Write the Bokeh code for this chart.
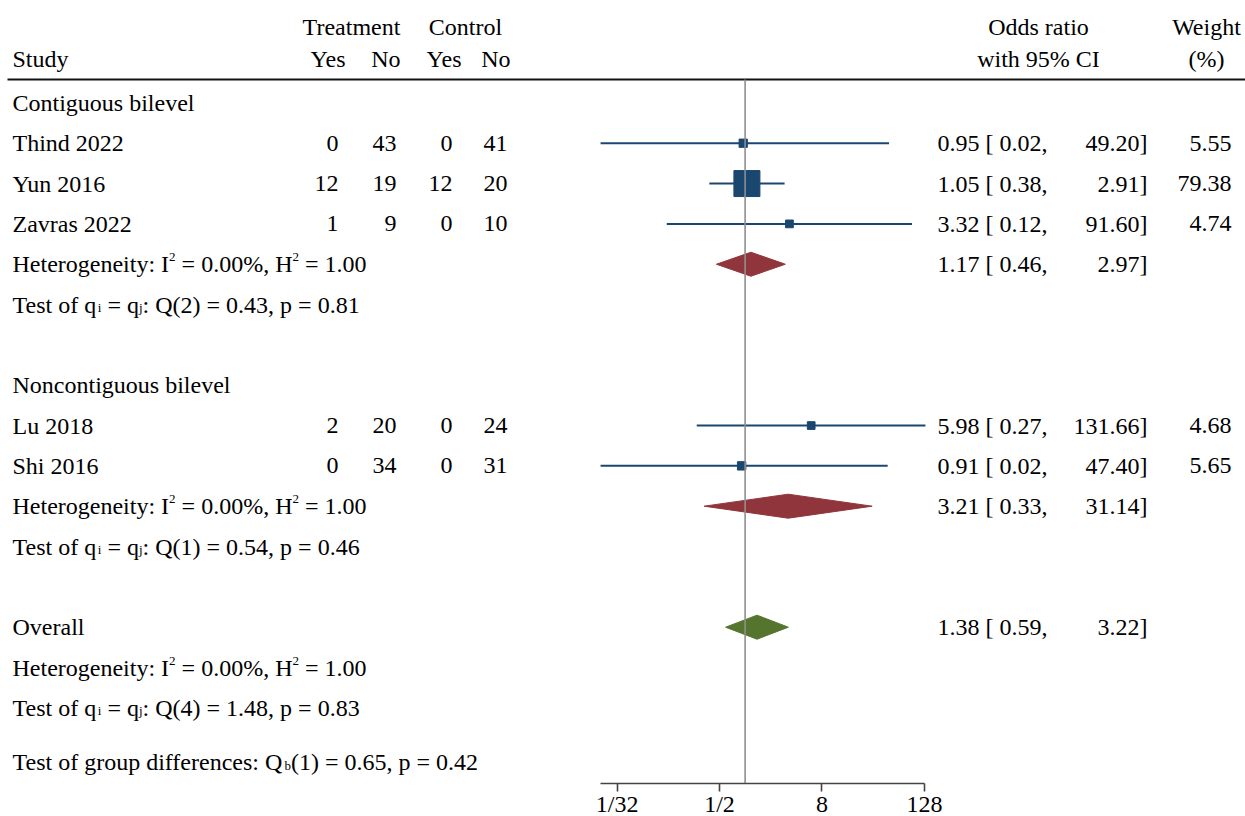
from bokeh.plotting import figure
from bokeh.models import ColumnDataSource, Range1d, LogScale, LogAxis, FixedTicker
from bokeh.embed import file_html
from bokeh.resources import INLINE
from bokeh.core.properties import value

# ---------------- data ----------------
group_names = ["Contiguous bilevel", "Noncontiguous bilevel"]
studies = ["Thind 2022", "Yun 2016", "Zavras 2022", "Lu 2018", "Shi 2016"]
study_group = [0, 0, 0, 1, 1]
treat_yes = [0, 12, 1, 2, 0]
treat_no = [43, 19, 9, 20, 34]
ctrl_yes = [0, 12, 0, 0, 0]
ctrl_no = [41, 20, 10, 24, 31]
or_est = [0.95, 1.05, 3.32, 5.98, 0.91]
or_lo = [0.02, 0.38, 0.12, 0.27, 0.02]
or_hi = [49.20, 2.91, 91.60, 131.66, 47.40]
weights = [5.55, 79.38, 4.74, 4.68, 5.65]

sub_est = [1.17, 3.21]
sub_lo = [0.46, 0.33]
sub_hi = [2.97, 31.14]
sub_I2 = [0.00, 0.00]
sub_H2 = [1.00, 1.00]
sub_Q = [0.43, 0.54]
sub_df = [2, 1]
sub_p = [0.81, 0.46]

overall_est = 1.38
overall_lo = 0.59
overall_hi = 3.22
overall_I2 = 0.00
overall_H2 = 1.00
overall_Q = 1.48
overall_df = 4
overall_p = 0.83
groupdiff_Q = 0.65
groupdiff_df = 1
groupdiff_p = 0.42

tick_vals = [1 / 32, 1 / 2, 8, 128]
tick_labels = ["1/32", "1/2", "8", "128"]
null_value = 1

# ---------------- layout / style ----------------
FONT = "Liberation Serif"
FS = 24
SMALL = 13
NAVY = "#1a476f"
MAROON = "#90353b"
GREEN = "#55752f"

W_PX, H_PX = 1245, 816
PX_PER_DOUBLING = 25.61
X_HALF = 719.0          # horizontal position of OR = 1/2
ROW0, ROWH = 102.4, 40.33
HEADER_LINE_Y = 79
AXIS_Y = 782.7
BASE_OFF = 0            # text anchor offset from row centre


def px_to_or(px):
    return 2 ** ((px - X_HALF) / PX_PER_DOUBLING - 1)


def ry(r):
    return ROW0 + ROWH * r


TW = {' ': 250, ':': 278, '=': 564, '.': 250, '%': 833, ',': 250, '(': 333, ')': 333,
      '[': 333, ']': 333, '/': 278,
      'A': 722, 'B': 667, 'C': 667, 'D': 722, 'E': 611, 'F': 556, 'G': 722, 'H': 722,
      'I': 333, 'J': 389, 'K': 722, 'L': 611, 'M': 889, 'N': 722, 'O': 722, 'P': 556,
      'Q': 722, 'R': 667, 'S': 556, 'T': 611, 'U': 722, 'V': 722, 'W': 944, 'X': 722,
      'Y': 722, 'Z': 611,
      'a': 444, 'b': 500, 'c': 444, 'd': 500, 'e': 444, 'f': 333, 'g': 500, 'h': 500,
      'i': 278, 'j': 278, 'k': 500, 'l': 278, 'm': 778, 'n': 500, 'o': 500, 'p': 500,
      'q': 500, 'r': 333, 's': 389, 't': 278, 'u': 500, 'v': 500, 'w': 722, 'x': 500,
      'y': 500, 'z': 444}


def tw(s, fs):
    return sum(TW.get(c, 500) for c in s) / 1000.0 * fs


T = dict(x=[], y=[], text=[], size=[], align=[])


def add(x, y, s, fs=FS, align="left"):
    T["x"].append(x)
    T["y"].append(y)
    T["text"].append(s)
    T["size"].append(f"{fs}px")
    T["align"].append(align)


def rich(x, yb, parts):
    cx = x
    for s, kind in parts:
        fs = FS if kind == "n" else SMALL
        dy = 0 if kind == "n" else (-7 if kind == "sup" else 3)
        body = s.lstrip(" ")
        cx += tw(s[:len(s) - len(body)], fs)   # leading spaces are not drawn in SVG
        add(cx, yb + dy, body, fs)
        cx += tw(body, fs)


def het(yb, i2, h2):
    rich(12, yb, [("Heterogeneity: I", "n"), ("2", "sup"),
                  (f" = {i2:.2f}%, H", "n"), ("2", "sup"), (f" = {h2:.2f}", "n")])


def qtest(yb, df, q, pv):
    rich(12, yb, [("Test of q", "n"), ("i", "sub"), (" = q", "n"), ("j", "sub"),
                  (f": Q({df}) = {q:.2f}, p = {pv:.2f}", "n")])


# headers
HEAD1, HEAD2 = 26, 58
add(351, HEAD1, "Treatment", align="center")
add(465, HEAD1, "Control", align="center")
add(1038, HEAD1, "Odds ratio", align="center")
add(1206, HEAD1, "Weight", align="center")
add(12, HEAD2, "Study")
add(345, HEAD2, "Yes", align="right")
add(400, HEAD2, "No", align="right")
add(461, HEAD2, "Yes", align="right")
add(510, HEAD2, "No", align="right")
add(1038, HEAD2, "with 95% CI", align="center")
add(1206, HEAD2, "(%)", align="center")

# rows
group_rows = [0, 7]
study_rows = [1, 2, 3, 8, 9]
sub_rows = [4, 10]
sub_test_rows = [5, 11]
overall_row, overall_het_row, overall_test_row, groupdiff_row = 13, 14, 15, 16.35

COLS = [338, 396, 452, 507]
for g, r in zip(group_names, group_rows):
    add(12, ry(r) + BASE_OFF, g)
for i, r in enumerate(study_rows):
    yb = ry(r) + BASE_OFF
    add(12, yb, studies[i])
    for cx, v in zip(COLS, [treat_yes[i], treat_no[i], ctrl_yes[i], ctrl_no[i]]):
        add(cx, yb, str(v), align="right")
    add(937, yb, f"{or_est[i]:.2f} [ {or_lo[i]:.2f},")
    add(1147, yb, f"{or_hi[i]:.2f}]", align="right")
    add(1231, yb, f"{weights[i]:.2f}", align="right")
for k, r in enumerate(sub_rows):
    yb = ry(r) + BASE_OFF
    het(yb, sub_I2[k], sub_H2[k])
    add(937, yb, f"{sub_est[k]:.2f} [ {sub_lo[k]:.2f},")
    add(1147, yb, f"{sub_hi[k]:.2f}]", align="right")
for k, r in enumerate(sub_test_rows):
    qtest(ry(r) + BASE_OFF, sub_df[k], sub_Q[k], sub_p[k])

yb = ry(overall_row) + BASE_OFF
add(12, yb, "Overall")
add(937, yb, f"{overall_est:.2f} [ {overall_lo:.2f},")
add(1147, yb, f"{overall_hi:.2f}]", align="right")
het(ry(overall_het_row) + BASE_OFF, overall_I2, overall_H2)
qtest(ry(overall_test_row) + BASE_OFF, overall_df, overall_Q, overall_p)
rich(12, ry(groupdiff_row) + BASE_OFF,
     [("Test of group differences: Q", "n"), ("b", "sub"),
      (f"({groupdiff_df}) = {groupdiff_Q:.2f}, p = {groupdiff_p:.2f}", "n")])

# ---------------- figure ----------------
p = figure(width=W_PX, height=H_PX, output_backend="svg", toolbar_location=None,
           x_range=Range1d(0, W_PX), y_range=Range1d(H_PX, 0),
           x_axis_type=None, y_axis_type=None, min_border=0)
p.extra_x_ranges = {"or": Range1d(px_to_or(0), px_to_or(W_PX))}
p.extra_x_scales = {"or": LogScale()}
p.outline_line_color = None
p.grid.visible = False
p.background_fill_color = "white"
p.border_fill_color = "white"

# header rule
p.segment(x0=[7], x1=[W_PX], y0=[HEADER_LINE_Y], y1=[HEADER_LINE_Y],
          line_color="#111111", line_width=2.2)

# study CIs and squares
ys = [ry(r) for r in study_rows]
sq_size = [26 * (w / max(weights)) ** 0.43 for w in weights]
src = ColumnDataSource(dict(est=or_est, lo=or_lo, hi=or_hi, y=ys, size=sq_size))
p.segment(x0="lo", x1="hi", y0="y", y1="y", source=src, x_range_name="or",
          line_color=NAVY, line_width=2)
p.scatter(x="est", y="y", size="size", marker="square", source=src, x_range_name="or",
          fill_color=NAVY, line_color=NAVY, line_width=1)

# diamonds
HALF_H = 12
dx, dy, dc = [], [], []
for k, r in enumerate(sub_rows):
    y = ry(r)
    dx.append([sub_lo[k], sub_est[k], sub_hi[k], sub_est[k]])
    dy.append([y, y - HALF_H, y, y + HALF_H])
    dc.append(MAROON)
y = ry(overall_row)
dx.append([overall_lo, overall_est, overall_hi, overall_est])
dy.append([y, y - HALF_H, y, y + HALF_H])
dc.append(GREEN)
p.patches(xs=dx, ys=dy, fill_color=dc, line_color=dc, line_width=1, x_range_name="or")

# null line
p.segment(x0=[null_value], x1=[null_value], y0=[HEADER_LINE_Y], y1=[AXIS_Y],
          x_range_name="or", line_color="#8f8f8f", line_width=1.6)

# texts
p.text(x="x", y="y", text="text", source=ColumnDataSource(T),
       text_font=value(FONT), text_font_size="size", text_align="align",
       text_baseline="alphabetic", text_color="black")

# axis
ax = LogAxis(x_range_name="or", ticker=FixedTicker(ticks=tick_vals),
             bounds=(min(or_lo), max(tick_vals)), fixed_location=AXIS_Y,
             major_label_overrides={t: l for t, l in zip(tick_vals, tick_labels)})
ax.axis_line_color = "#444444"
ax.axis_line_width = 1.6
ax.major_tick_line_color = "#444444"
ax.major_tick_line_width = 1.6
ax.major_tick_out = 8
ax.major_tick_in = 0
ax.minor_tick_out = 0
ax.minor_tick_in = 0
ax.major_label_text_font = FONT
ax.major_label_text_font_size = "24px"
ax.major_label_text_color = "black"
ax.major_label_standoff = 0
p.add_layout(ax, "below")

open("out.html", "w").write(file_html(p, INLINE))
